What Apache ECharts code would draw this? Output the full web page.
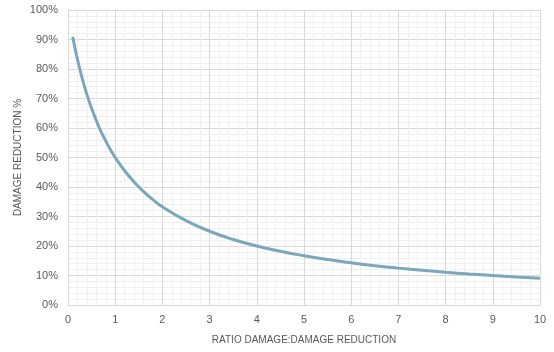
<!DOCTYPE html>
<html><head><meta charset="utf-8">
<script src="https://cdn.jsdelivr.net/npm/echarts@6/dist/echarts.min.js"></script>
<style>html,body{margin:0;padding:0;background:#fff}#c{width:554px;height:352px}</style>
</head><body><div id="c"></div>
<script>
var ratios = [0.1,0.2,0.3,0.4,0.5,0.6,0.7,0.8,0.9,1,1.2,1.4,1.6,1.8,2,2.5,3,3.5,4,4.5,5,5.5,6,6.5,7,7.5,8,8.5,9,9.5,10];
var reduction = [90.9,83.3,76.9,71.4,66.7,62.5,58.8,55.6,52.6,50,45.5,41.7,38.5,35.7,33.3,28.6,25,22.2,20,18.2,16.7,15.4,14.3,13.3,12.5,11.8,11.1,10.5,10,9.5,9.1];
var xTitle = 'RATIO DAMAGE:DAMAGE REDUCTION';
var yTitle = 'DAMAGE REDUCTION %';
var data = ratios.map(function(r,i){return [r, reduction[i]];});
var chart = echarts.init(document.getElementById('c'));
var font = '"Liberation Sans", Arial, sans-serif';
chart.setOption({
  animation:false,
  grid:{left:68,right:14,top:10,bottom:47,containLabel:false},
  xAxis:{type:'value',min:0,max:10,interval:1,
    name:xTitle,nameLocation:'middle',nameGap:30,nameMoveOverlap:false,
    nameTextStyle:{color:'#595959',fontSize:10,fontFamily:font},
    axisLine:{show:true,lineStyle:{color:'#d9d9d9'}},axisTick:{show:false},
    axisLabel:{color:'#595959',fontSize:11,fontFamily:font,margin:9},
    splitLine:{show:true,lineStyle:{color:'#d9d9d9'}},
    minorTick:{show:false,splitNumber:5},
    minorSplitLine:{show:true,lineStyle:{color:'#f0f0f0'}}},
  yAxis:{type:'value',min:0,max:100,interval:10,
    name:yTitle,nameLocation:'middle',nameGap:45,nameMoveOverlap:false,
    nameTextStyle:{color:'#595959',fontSize:10,fontFamily:font},
    axisLine:{show:true,lineStyle:{color:'#d9d9d9'}},axisTick:{show:false},
    axisLabel:{color:'#595959',fontSize:11,fontFamily:font,margin:10,formatter:'{value}%'},
    splitLine:{show:true,lineStyle:{color:'#d9d9d9'}},
    minorTick:{show:false,splitNumber:5},
    minorSplitLine:{show:true,lineStyle:{color:'#f0f0f0'}}},
  series:[{type:'line',data:data,smooth:true,showSymbol:false,
    lineStyle:{color:'#7ba7bc',width:3}}]
});
</script></body></html>
